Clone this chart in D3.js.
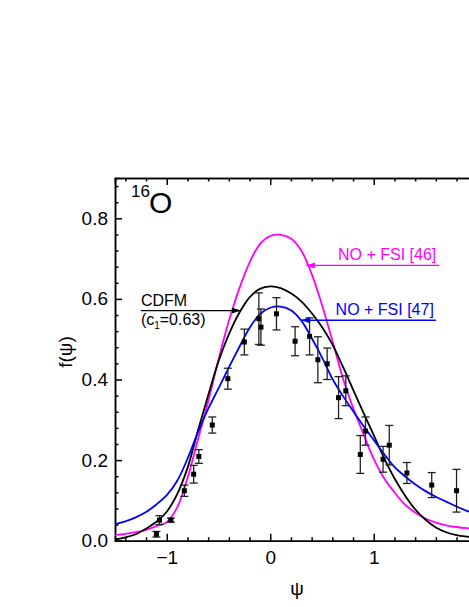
<!DOCTYPE html>
<html>
<head>
<meta charset="utf-8">
<script src="https://cdn.jsdelivr.net/npm/d3@7"></script>
<style>
    body { margin: 0; background: #fff; }
    svg { display: block; font-family: Arial, "Liberation Sans", sans-serif; }
    .axis path, .axis line { stroke: #000; stroke-width: 1.5; }
    .axis text { font-size: 19px; fill: #000; }
    .curve { fill: none; stroke-width: 1.8; }
    .err { stroke: #222; stroke-width: 1.3; }
</style>
</head>
<body>
<div id="chart"></div>
<script>
// grid the model curves were read on (psi)
var psiGrid = [-1.5, -1.4, -1.3, -1.2, -1.1, -1.0, -0.9, -0.8, -0.7, -0.6, -0.5, -0.4,
    -0.3, -0.2, -0.1, 0.0, 0.1, 0.2, 0.3, 0.4, 0.5, 0.6, 0.7, 0.8, 0.9, 1.0, 1.1, 1.2,
    1.3, 1.4, 1.5, 1.6, 1.7, 1.8, 1.9, 2.0];

// CDFM (c1=0.63)
var cdfmVals = [0.003, 0.008, 0.016, 0.030, 0.047, 0.072, 0.115, 0.180, 0.272, 0.360, 0.445, 0.512,
    0.565, 0.604, 0.625, 0.631, 0.627, 0.614, 0.594, 0.565, 0.530, 0.487, 0.433, 0.375, 0.318, 0.262,
    0.205, 0.155, 0.113, 0.078, 0.052, 0.033, 0.021, 0.014, 0.010, 0.007];

// NO + FSI [46]
var fsi46Vals = [0.014, 0.017, 0.021, 0.027, 0.036, 0.046, 0.082, 0.155, 0.250, 0.345, 0.450, 0.545,
    0.625, 0.690, 0.736, 0.756, 0.759, 0.750, 0.720, 0.662, 0.585, 0.497, 0.405, 0.330, 0.265, 0.203,
    0.155, 0.120, 0.090, 0.070, 0.055, 0.045, 0.038, 0.034, 0.031, 0.029];

// NO + FSI [47]
var fsi47Vals = [0.041, 0.048, 0.058, 0.071, 0.090, 0.113, 0.148, 0.203, 0.268, 0.327, 0.378, 0.430,
    0.480, 0.528, 0.562, 0.578, 0.581, 0.572, 0.546, 0.503, 0.455, 0.402, 0.360, 0.322, 0.285, 0.250,
    0.215, 0.183, 0.160, 0.140, 0.123, 0.109, 0.097, 0.085, 0.074, 0.065];

// experimental points
var expPsi = [-1.10, -1.07, -0.96, -0.83, -0.74, -0.69, -0.56, -0.41, -0.25, -0.11, -0.09, 0.06,
    0.24, 0.38, 0.46, 0.55, 0.66, 0.73, 0.87, 0.92, 1.09, 1.15, 1.32, 1.56, 1.80];
var expF = [0.016, 0.051, 0.051, 0.124, 0.165, 0.209, 0.287, 0.402, 0.493, 0.551, 0.530, 0.563,
    0.495, 0.507, 0.449, 0.439, 0.355, 0.372, 0.214, 0.272, 0.202, 0.237, 0.168, 0.138, 0.124];
var expErr = [0.007, 0.011, 0.005, 0.014, 0.022, 0.017, 0.020, 0.026, 0.032, 0.064, 0.045, 0.040,
    0.036, 0.046, 0.057, 0.039, 0.052, 0.037, 0.047, 0.035, 0.032, 0.049, 0.026, 0.031, 0.053];

var xMajor = [-1, 0, 1];
var xMinor = [-1.4, -1.2, -0.8, -0.6, -0.4, -0.2, 0.2, 0.4, 0.6, 0.8, 1.2, 1.4, 1.6, 1.8];
var yMajor = [0, 0.2, 0.4, 0.6, 0.8];
var yMinor = [0.04, 0.08, 0.12, 0.16, 0.24, 0.28, 0.32, 0.36, 0.44, 0.48, 0.52, 0.56,
    0.64, 0.68, 0.72, 0.76, 0.84, 0.88];


ScalingChart = function(_parentElement){
    this.parentElement = _parentElement;
    this.initVis();
}

ScalingChart.prototype.initVis = function(){
    var vis = this;
    vis.width = 469;
    vis.height = 607;

    vis.svg = d3.select("#" + vis.parentElement).append("svg")
        .attr("width", vis.width)
        .attr("height", vis.height);

    // right edge of the frame falls just outside the picture
    vis.x = d3.scaleLinear().domain([-1.5, 2.0]).range([115, 477.25]);
    vis.y = d3.scaleLinear().domain([0, 0.9]).range([540.7, 178]);

    // arrow heads for the labels
    var defs = vis.svg.append("defs");
    [["black", "#000"], ["mag", "#ff00ff"], ["blue", "#0000ff"]].forEach(function(c){
        defs.append("marker")
            .attr("id", "arr-" + c[0])
            .attr("viewBox", "0 0 10 10")
            .attr("refX", 10).attr("refY", 5)
            .attr("markerUnits", "userSpaceOnUse")
            .attr("markerWidth", 9).attr("markerHeight", 6)
            .attr("preserveAspectRatio", "none")
            .attr("orient", "auto")
            .append("path")
            .attr("d", "M0,0L10,5L0,10z")
            .attr("fill", c[1]);
    });

    vis.drawAxes();
    vis.drawCurves();
    vis.drawPoints();
    vis.drawLabels();
};

ScalingChart.prototype.drawAxes = function(){
    var vis = this;
    var y0 = vis.y(0), yTop = vis.y(0.9), x0 = vis.x(-1.5);

    // bottom
    vis.svg.append("g").attr("class", "axis")
        .attr("transform", "translate(0," + y0 + ")")
        .call(d3.axisBottom(vis.x).tickValues(xMinor).tickSize(-3.5).tickFormat(""));
    vis.svg.append("g").attr("class", "axis")
        .attr("transform", "translate(0," + y0 + ")")
        .call(d3.axisBottom(vis.x).tickValues(xMajor).tickSizeInner(-7).tickSizeOuter(0)
            .tickPadding(10).tickFormat(d3.format("d")));

    // top
    vis.svg.append("g").attr("class", "axis")
        .attr("transform", "translate(0," + yTop + ")")
        .call(d3.axisTop(vis.x).tickValues(xMinor).tickSize(-3.5).tickFormat(""));
    vis.svg.append("g").attr("class", "axis")
        .attr("transform", "translate(0," + yTop + ")")
        .call(d3.axisTop(vis.x).tickValues(xMajor).tickSize(-7).tickFormat(""));

    // left
    vis.svg.append("g").attr("class", "axis")
        .attr("transform", "translate(" + x0 + ",0)")
        .call(d3.axisLeft(vis.y).tickValues(yMinor).tickSize(-3.5).tickFormat(""));
    vis.svg.append("g").attr("class", "axis")
        .attr("transform", "translate(" + x0 + ",0)")
        .call(d3.axisLeft(vis.y).tickValues(yMajor).tickSizeInner(-7).tickSizeOuter(0)
            .tickPadding(7).tickFormat(d3.format(".1f")));

    vis.svg.append("text")
        .attr("x", 297).attr("y", 595)
        .attr("text-anchor", "middle")
        .style("font-size", "19px")
        .text("ψ");

    vis.svg.append("text")
        .attr("transform", "translate(72,352) rotate(-90)")
        .attr("text-anchor", "middle")
        .style("font-size", "19px")
        .text("f(ψ)");
};

ScalingChart.prototype.drawCurves = function(){
    var vis = this;
    var line = d3.line()
        .x(function(d){ return vis.x(d[0]); })
        .y(function(d){ return vis.y(d[1]); })
        .curve(d3.curveCatmullRom.alpha(0.5));

    var series = [
        {vals: fsi46Vals, color: "#ff00ff"},
        {vals: cdfmVals, color: "#000000"},
        {vals: fsi47Vals, color: "#0000ff"}
    ];
    series.forEach(function(s){
        vis.svg.append("path")
            .attr("class", "curve")
            .attr("stroke", s.color)
            .attr("d", line(psiGrid.map(function(p, i){ return [p, s.vals[i]]; })));
    });
};

ScalingChart.prototype.drawPoints = function(){
    var vis = this;
    var pts = expPsi.map(function(p, i){ return {psi: p, f: expF[i], e: expErr[i]}; });

    var g = vis.svg.append("g");
    var bar = g.selectAll(".bar").data(pts).enter().append("g").attr("class", "bar");
    bar.append("line").attr("class", "err")
        .attr("x1", function(d){ return vis.x(d.psi); })
        .attr("x2", function(d){ return vis.x(d.psi); })
        .attr("y1", function(d){ return vis.y(d.f - d.e); })
        .attr("y2", function(d){ return vis.y(d.f + d.e); });
    [1, -1].forEach(function(s){
        bar.append("line").attr("class", "err")
            .attr("x1", function(d){ return vis.x(d.psi) - 4; })
            .attr("x2", function(d){ return vis.x(d.psi) + 4; })
            .attr("y1", function(d){ return vis.y(d.f + s * d.e); })
            .attr("y2", function(d){ return vis.y(d.f + s * d.e); });
    });
    bar.append("rect")
        .attr("x", function(d){ return vis.x(d.psi) - 2.5; })
        .attr("y", function(d){ return vis.y(d.f) - 2.5; })
        .attr("width", 5).attr("height", 5)
        .attr("fill", "#000");
};

ScalingChart.prototype.drawLabels = function(){
    var vis = this;

    // 16O
    vis.svg.append("text").attr("x", 131).attr("y", 197)
        .style("font-size", "17px").text("16");
    vis.svg.append("text").attr("x", 149).attr("y", 213)
        .style("font-size", "30px").text("O");

    // label lines: tail -> tip on the curve (data units)
    var notes = [
        {text: "NO + FSI [46]", color: "#ff00ff", id: "mag", tail: [1.633, 0.683], tip: [0.345, 0.683], anchor: "end", dx: -3},
        {text: "NO + FSI [47]", color: "#0000ff", id: "blue", tail: [1.60, 0.547], tip: [0.297, 0.547], anchor: "end", dx: -2},
        {text: "CDFM", color: "#000", id: "black", tail: [-1.25, 0.571], tip: [-0.283, 0.571], anchor: "start", dx: 0}
    ];
    notes.forEach(function(n){
        vis.svg.append("line")
            .attr("x1", vis.x(n.tail[0])).attr("y1", vis.y(n.tail[1]))
            .attr("x2", vis.x(n.tip[0])).attr("y2", vis.y(n.tip[1]))
            .attr("stroke", n.color).attr("stroke-width", 1.3)
            .attr("marker-end", "url(#arr-" + n.id + ")");
        vis.svg.append("text")
            .attr("x", vis.x(n.tail[0]) + n.dx)
            .attr("y", vis.y(n.tail[1]) - 5)
            .attr("text-anchor", n.anchor)
            .attr("fill", n.color)
            .style("font-size", "16px")
            .text(n.text);
    });

    var c1 = vis.svg.append("text")
        .attr("x", vis.x(-1.25)).attr("y", vis.y(0.571) + 14)
        .style("font-size", "16px");
    c1.append("tspan").text("(c");
    c1.append("tspan").attr("dy", 4).style("font-size", "10px").text("1");
    c1.append("tspan").attr("dy", -4).text("=0.63)");
};

new ScalingChart("chart");
</script>
</body>
</html>
